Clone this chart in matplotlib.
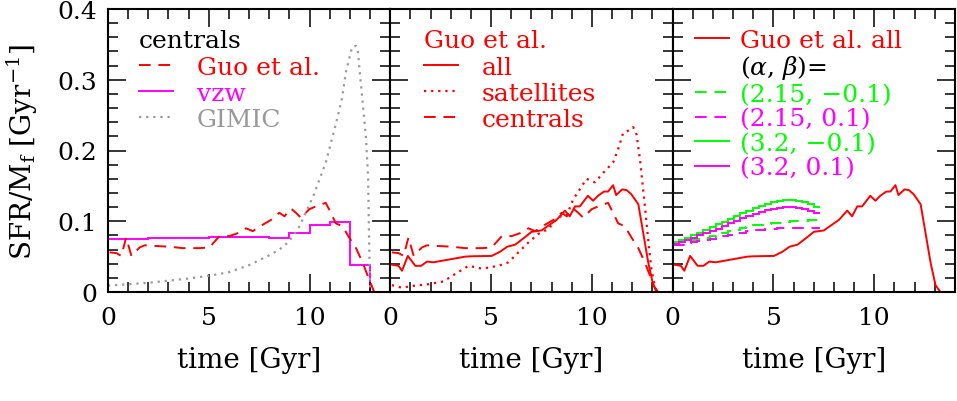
import matplotlib
matplotlib.use("Agg")
import matplotlib.pyplot as plt
from matplotlib.lines import Line2D

plt.rcParams['font.family'] = ['DejaVu Serif']
plt.rcParams['mathtext.fontset'] = 'dejavuserif'

RED = '#ff0000'
MAG = '#ff00ff'
GRN = '#00ff00'
GRY = '#999999'

# ---------------- data ----------------
# Guo et al. "all"
t_all = [0.08, 0.41, 0.58, 0.87, 1.24, 1.53, 1.82, 2.14, 3.05, 3.71, 4.04, 5.03, 5.45, 5.8, 6.2,
         6.7, 7.0, 7.5, 7.9, 8.25, 8.66, 8.9, 9.16, 9.4, 9.8, 10.06, 10.3, 10.6, 10.8, 11.05,
         11.2, 11.5, 11.72, 11.96, 12.3, 12.54, 12.79, 13.04, 13.28]
sfr_all = [0.0386, 0.037, 0.030, 0.051, 0.037, 0.037, 0.043, 0.042, 0.0466, 0.050, 0.0505, 0.051,
           0.057, 0.064, 0.067, 0.078, 0.085, 0.087, 0.095, 0.102, 0.115, 0.107, 0.121, 0.121,
           0.136, 0.129, 0.136, 0.142, 0.142, 0.151, 0.137, 0.145, 0.144, 0.138, 0.124, 0.084,
           0.042, 0.0095, 0.0]

# Guo et al. satellites
t_sat = [0.08, 0.58, 1.07, 1.9, 2.64, 3.3, 3.88, 4.54, 5.36, 5.86, 6.35, 6.85, 7.34, 7.84, 8.33,
         8.75, 9.07, 9.4, 9.73, 10.15, 10.64, 11.05, 11.3, 11.55, 11.88, 12.05, 12.21, 12.38,
         12.59, 12.79, 12.95, 13.12, 13.2]
sfr_sat = [0.0097, 0.006, 0.0085, 0.011, 0.015, 0.027, 0.037, 0.033, 0.037, 0.042, 0.056, 0.070,
           0.082, 0.089, 0.106, 0.108, 0.131, 0.145, 0.160, 0.155, 0.171, 0.183, 0.202, 0.225,
           0.229, 0.233, 0.223, 0.188, 0.131, 0.074, 0.032, 0.0085, 0.0]

# Guo et al. centrals
t_cen = [0.08, 0.41, 0.66, 0.9, 1.16, 1.57, 1.82, 2.4, 3.05, 3.71, 4.54, 5.03, 5.53, 6.02, 6.52,
         6.85, 7.18, 7.67, 8.09, 8.5, 8.75, 9.07, 9.32, 9.57, 9.98, 10.4, 10.8, 11.05, 11.3,
         11.63, 11.96, 12.3, 12.62, 12.95, 13.2]
sfr_cen = [0.056, 0.055, 0.051, 0.077, 0.051, 0.063, 0.066, 0.065, 0.064, 0.062, 0.062, 0.063,
           0.079, 0.079, 0.084, 0.090, 0.086, 0.095, 0.102, 0.112, 0.107, 0.118, 0.112, 0.105,
           0.117, 0.122, 0.126, 0.112, 0.097, 0.093, 0.077, 0.062, 0.042, 0.018, 0.0]

# vzw (binned)
vzw_edges = [0, 1, 2, 3, 4, 5, 6, 7, 8, 9, 10, 11, 12, 13, 14]
vzw_sfr = [0.075, 0.075, 0.076, 0.077, 0.077, 0.078, 0.078, 0.078, 0.076, 0.083, 0.094, 0.099,
           0.038, 0.0]

# GIMIC
t_gim = [0.0, 1.0, 2.0, 3.0, 4.0, 5.0, 6.0, 7.0, 7.5, 8.0, 8.5, 9.0, 9.5, 9.9, 10.2, 10.5,
         10.8, 11.15, 11.4, 11.6, 11.8, 12.0, 12.1, 12.3, 12.4, 12.47, 12.6, 12.8, 12.9, 12.94,
         12.97, 13.0]
sfr_gim = [0.009, 0.011, 0.013, 0.016, 0.019, 0.023, 0.028, 0.038, 0.045, 0.052, 0.060, 0.072,
           0.093, 0.118, 0.137, 0.160, 0.183, 0.221, 0.249, 0.273, 0.311, 0.334, 0.346, 0.348,
           0.339, 0.315, 0.277, 0.216, 0.160, 0.089, 0.042, 0.004]

# (alpha, beta) models, binned
ab_edges = [0.0, 0.31, 0.61, 0.92, 1.22, 1.53, 1.83, 2.14, 2.44, 2.75, 3.05, 3.36, 3.66, 3.97,
            4.27, 4.58, 4.88, 5.19, 5.49, 5.80, 6.10, 6.41, 6.71, 7.02, 7.32]
ab_215_m01 = [0.069, 0.070, 0.072, 0.073, 0.075, 0.077, 0.079, 0.081, 0.083, 0.086, 0.088, 0.090,
              0.092, 0.094, 0.095, 0.096, 0.097, 0.098, 0.099, 0.100, 0.101, 0.101, 0.102, 0.102]
ab_215_p01 = [0.066, 0.067, 0.069, 0.070, 0.072, 0.073, 0.075, 0.077, 0.079, 0.081, 0.083, 0.084,
              0.086, 0.087, 0.088, 0.089, 0.089, 0.090, 0.090, 0.090, 0.091, 0.091, 0.091, 0.091]
ab_32_m01 = [0.071, 0.074, 0.077, 0.081, 0.084, 0.088, 0.092, 0.096, 0.099, 0.103, 0.107, 0.111,
             0.115, 0.119, 0.122, 0.125, 0.127, 0.129, 0.130, 0.130, 0.129, 0.127, 0.124, 0.120]
ab_32_p01 = [0.068, 0.071, 0.074, 0.077, 0.080, 0.083, 0.086, 0.089, 0.093, 0.097, 0.100, 0.104,
             0.107, 0.110, 0.113, 0.116, 0.118, 0.119, 0.120, 0.120, 0.119, 0.118, 0.115, 0.112]

xticks = [0, 5, 10]
yticks = [0, 0.1, 0.2, 0.3, 0.4]
ytick_labels = ['0', '0.1', '0.2', '0.3', '0.4']

# ---------------- figure ----------------
fig = plt.figure(figsize=(9.57, 4.02), dpi=100)
L, B, W, H = 108 / 957, 109 / 402, 282.3 / 957, 283 / 402
axes = [fig.add_axes([L + i * W, B, W, H]) for i in range(3)]

LW = 1.4
DASH = (0, (6, 4))
DOT = (0, (1, 2.2))
TFS = 18
LFS = 18
LSP = 0.12
TOP = 0.93

for i, ax in enumerate(axes):
    ax.set_xlim(0, 14)
    ax.set_ylim(0, 0.4)
    ax.set_xticks(xticks)
    ax.set_xticks([v for v in range(0, 15)], minor=True)
    ax.set_yticks(yticks)
    ax.set_yticks([0.02 * k for k in range(21)], minor=True)
    ax.tick_params(which='both', direction='in', top=True, right=True, width=1.1,
                   labelsize=TFS)
    ax.tick_params(which='major', length=13, pad=10)
    ax.tick_params(which='minor', length=7)
    ax.tick_params(axis='y', pad=8)
    for s in ax.spines.values():
        s.set_linewidth(1.5)
    ax.set_xlabel('time [Gyr]', fontsize=20, labelpad=12)
    if i == 0:
        ax.set_yticklabels(ytick_labels)
        ax.set_ylabel(r'SFR/M$_\mathregular{f}$ [Gyr$^{\mathregular{-1}}$]', fontsize=20,
                      labelpad=12)
    else:
        ax.set_yticklabels([])

# Panel 1
ax = axes[0]
ax.plot(t_gim, sfr_gim, color=GRY, lw=1.6, linestyle=DOT)
ax.plot(t_cen, sfr_cen, color=RED, lw=LW, linestyle=DASH)
ax.stairs(vzw_sfr, vzw_edges, color=MAG, lw=LW, baseline=None)
h1 = [Line2D([], [], color=RED, lw=LW, linestyle=DASH),
      Line2D([], [], color=MAG, lw=LW),
      Line2D([], [], color=GRY, lw=1.6, linestyle=DOT)]
leg = ax.legend(h1, ['Guo et al.', 'vzw', 'GIMIC'], title='centrals', loc='upper left',
                bbox_to_anchor=(0.11, TOP), frameon=False, fontsize=LFS,
                title_fontsize=LFS, alignment='left', handlelength=1.35,
                handletextpad=0.95, labelspacing=LSP, borderpad=0, borderaxespad=0,
                labelcolor=[RED, MAG, GRY])
leg._legend_box.sep = 3

# Panel 2
ax = axes[1]
ax.plot(t_all, sfr_all, color=RED, lw=LW)
ax.plot(t_sat, sfr_sat, color=RED, lw=1.6, linestyle=DOT)
ax.plot(t_cen, sfr_cen, color=RED, lw=LW, linestyle=DASH)
h2 = [Line2D([], [], color=RED, lw=LW),
      Line2D([], [], color=RED, lw=1.6, linestyle=DOT),
      Line2D([], [], color=RED, lw=LW, linestyle=DASH)]
leg2 = ax.legend(h2, ['all', 'satellites', 'centrals'], title='Guo et al.', loc='upper left',
                 bbox_to_anchor=(0.12, TOP), frameon=False, fontsize=LFS,
                 title_fontsize=LFS, alignment='left', handlelength=1.35,
                 handletextpad=0.95, labelspacing=LSP, borderpad=0, borderaxespad=0,
                 labelcolor=RED)
leg2.get_title().set_color(RED)
leg2._legend_box.sep = 3

# Panel 3
ax = axes[2]
ax.plot(t_all, sfr_all, color=RED, lw=LW)
ax.stairs(ab_215_m01, ab_edges, color=GRN, lw=LW, linestyle=DASH, baseline=None)
ax.stairs(ab_215_p01, ab_edges, color=MAG, lw=LW, linestyle=DASH, baseline=None)
ax.stairs(ab_32_m01, ab_edges, color=GRN, lw=LW, baseline=None)
ax.stairs(ab_32_p01, ab_edges, color=MAG, lw=LW, baseline=None)
h3 = [Line2D([], [], color=RED, lw=LW),
      Line2D([], [], color='none', lw=0),
      Line2D([], [], color=GRN, lw=LW, linestyle=DASH),
      Line2D([], [], color=MAG, lw=LW, linestyle=DASH),
      Line2D([], [], color=GRN, lw=LW),
      Line2D([], [], color=MAG, lw=LW)]
labels3 = ['Guo et al. all', r'($\alpha$, $\beta$)=', '(2.15, \u22120.1)', '(2.15, 0.1)',
           '(3.2, \u22120.1)', '(3.2, 0.1)']
ax.legend(h3, labels3, loc='upper left', bbox_to_anchor=(0.08, TOP), frameon=False,
          fontsize=LFS, handlelength=1.35, handletextpad=0.45, labelspacing=0.06,
          borderpad=0, borderaxespad=0,
          labelcolor=[RED, 'black', GRN, MAG, GRN, MAG])

fig.savefig('out.png', dpi=100)
